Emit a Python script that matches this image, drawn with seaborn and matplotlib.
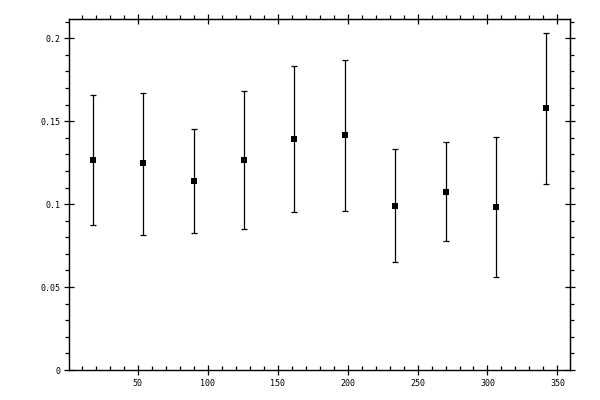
import numpy as np
import pandas as pd
import matplotlib
matplotlib.use("Agg")
import matplotlib.pyplot as plt
from matplotlib.ticker import MultipleLocator, FuncFormatter
import seaborn as sns

# data
angle = [18, 54, 90, 126, 162, 198, 234, 270, 306, 342]
value = [0.1266, 0.1246, 0.1138, 0.1266, 0.1391, 0.1415, 0.0987, 0.1071, 0.0981, 0.1578]
upper = [0.1660, 0.1672, 0.1451, 0.1680, 0.1831, 0.1867, 0.1331, 0.1373, 0.1405, 0.2034]
lower = [0.0872, 0.0812, 0.0824, 0.0848, 0.0951, 0.0957, 0.0649, 0.0776, 0.0561, 0.1120]

df = pd.DataFrame({"angle": angle, "value": value, "upper": upper, "lower": lower})

sns.set_style("ticks")
plt.rcParams["font.family"] = ["DejaVu Sans Mono"]
plt.rcParams["xtick.labelcolor"] = "black"
plt.rcParams["ytick.labelcolor"] = "black"

fig = plt.figure(figsize=(6, 4), dpi=100)
ax = fig.add_axes([0.1155, 0.075, 0.8345, 0.8775])

# error bars
yerr = [df["value"] - df["lower"], df["upper"] - df["value"]]
ax.errorbar(df["angle"], df["value"], yerr=yerr, fmt="none", ecolor="black",
            elinewidth=0.9, capsize=2, capthick=0.9)
sns.scatterplot(data=df, x="angle", y="value", marker="s", s=25, color="black",
                edgecolor="black", linewidth=0, ax=ax, zorder=3)

ax.set_xlim(1, 359)
ax.set_ylim(0, 0.2116)
ax.set_xlabel("")
ax.set_ylabel("")

for s in ax.spines.values():
    s.set_visible(True)
    s.set_linewidth(1)
    s.set_color("black")

ax.xaxis.set_major_locator(MultipleLocator(50))
ax.xaxis.set_minor_locator(MultipleLocator(10))
ax.yaxis.set_major_locator(MultipleLocator(0.05))
ax.yaxis.set_minor_locator(MultipleLocator(0.01))
ax.yaxis.set_major_formatter(FuncFormatter(lambda v, p: "%g" % round(v, 4)))
ax.xaxis.set_major_formatter(FuncFormatter(lambda v, p: "%g" % v))

ax.tick_params(axis="both", which="major", direction="inout", length=7, width=0.9,
               labelsize=6, color="black", labelcolor="black", pad=3)
ax.tick_params(axis="x", which="minor", direction="in", length=3, width=0.9, color="black")
ax.tick_params(axis="y", which="minor", direction="out", length=3, width=0.9, color="black")

# top and right axes with their own tick styles
top = ax.secondary_xaxis("top")
top.xaxis.set_major_locator(MultipleLocator(50))
top.xaxis.set_minor_locator(MultipleLocator(10))
top.tick_params(which="major", direction="inout", length=7, width=0.9, labeltop=False, color="black")
top.tick_params(which="minor", direction="out", length=3, width=0.9, color="black")

right = ax.secondary_yaxis("right")
right.yaxis.set_major_locator(MultipleLocator(0.05))
right.yaxis.set_minor_locator(MultipleLocator(0.01))
right.tick_params(which="major", direction="inout", length=7, width=0.9, labelright=False, color="black")
right.tick_params(which="minor", direction="out", length=3, width=0.9, color="black")

fig.savefig("out.png", dpi=100, facecolor="white")
